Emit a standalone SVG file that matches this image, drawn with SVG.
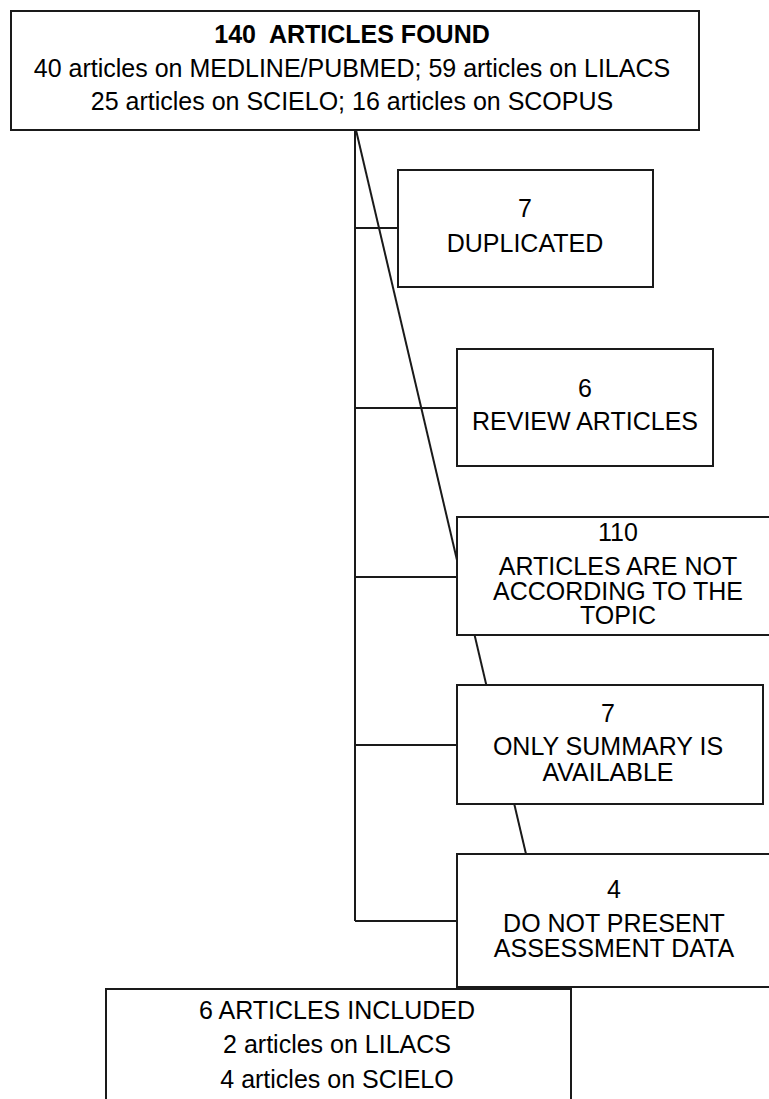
<svg xmlns="http://www.w3.org/2000/svg" width="769" height="1099" viewBox="0 0 769 1099">
<style>
.box{fill:#fff;stroke:#1a1a1a;stroke-width:2}
.ln{stroke:#1a1a1a;stroke-width:2;fill:none}
.t{font-family:"Liberation Sans",Arial,sans-serif;font-size:25px;fill:#000;text-anchor:middle}
.b{font-weight:bold}
</style>
<rect width="769" height="1099" fill="#fff"/>
<g id="connectors">
<line class="ln" x1="355" y1="130" x2="355" y2="921"/>
<line class="ln" x1="355" y1="228" x2="398" y2="228"/>
<line class="ln" x1="355" y1="408" x2="457" y2="408"/>
<line class="ln" x1="355" y1="577" x2="457" y2="577"/>
<line class="ln" x1="355" y1="745" x2="457" y2="745"/>
<line class="ln" x1="355" y1="921" x2="457" y2="921"/>
<line class="ln" stroke-width="1.6" x1="356" y1="130" x2="526" y2="854"/>
</g>
<g id="found">
<rect class="box" x="11" y="11" width="688" height="119"/>
<text class="t" x="352" y="43" font-size="25.6"><tspan class="b" x="352" y="43">140&#160; ARTICLES FOUND</tspan><tspan x="352" y="77">40 articles on MEDLINE/PUBMED; 59 articles on LILACS</tspan><tspan x="352" y="110">25 articles on SCIELO; 16 articles on SCOPUS</tspan></text>
</g>
<g id="duplicated">
<rect class="box" x="398" y="170" width="255" height="117"/>
<text class="t" x="525" y="217"><tspan x="525" y="217">7</tspan><tspan x="525" y="252">DUPLICATED</tspan></text>
</g>
<g id="review">
<rect class="box" x="457" y="349" width="256" height="117"/>
<text class="t" x="585" y="397"><tspan x="585" y="397">6</tspan><tspan x="585" y="430">REVIEW ARTICLES</tspan></text>
</g>
<g id="topic">
<rect class="box" x="457" y="517" width="330" height="118"/>
<text class="t" x="618" y="541"><tspan x="618" y="541">110</tspan><tspan x="618" y="575">ARTICLES ARE NOT</tspan><tspan x="618" y="600">ACCORDING TO THE</tspan><tspan x="618" y="624">TOPIC</tspan></text>
</g>
<g id="summary">
<rect class="box" x="457" y="685" width="306" height="119"/>
<text class="t" x="608" y="722"><tspan x="608" y="722">7</tspan><tspan x="608" y="755">ONLY SUMMARY IS</tspan><tspan x="608" y="781">AVAILABLE</tspan></text>
</g>
<g id="nodata">
<rect class="box" x="457" y="854" width="330" height="133"/>
<text class="t" x="614" y="898"><tspan x="614" y="898">4</tspan><tspan x="614" y="932">DO NOT PRESENT</tspan><tspan x="614" y="957">ASSESSMENT DATA</tspan></text>
</g>
<g id="included">
<rect class="box" x="106" y="989" width="465" height="130"/>
<text class="t" x="337" y="1019"><tspan x="337" y="1019">6 ARTICLES INCLUDED</tspan><tspan x="337" y="1053">2 articles on LILACS</tspan><tspan x="337" y="1088">4 articles on SCIELO</tspan></text>
</g>
</svg>
